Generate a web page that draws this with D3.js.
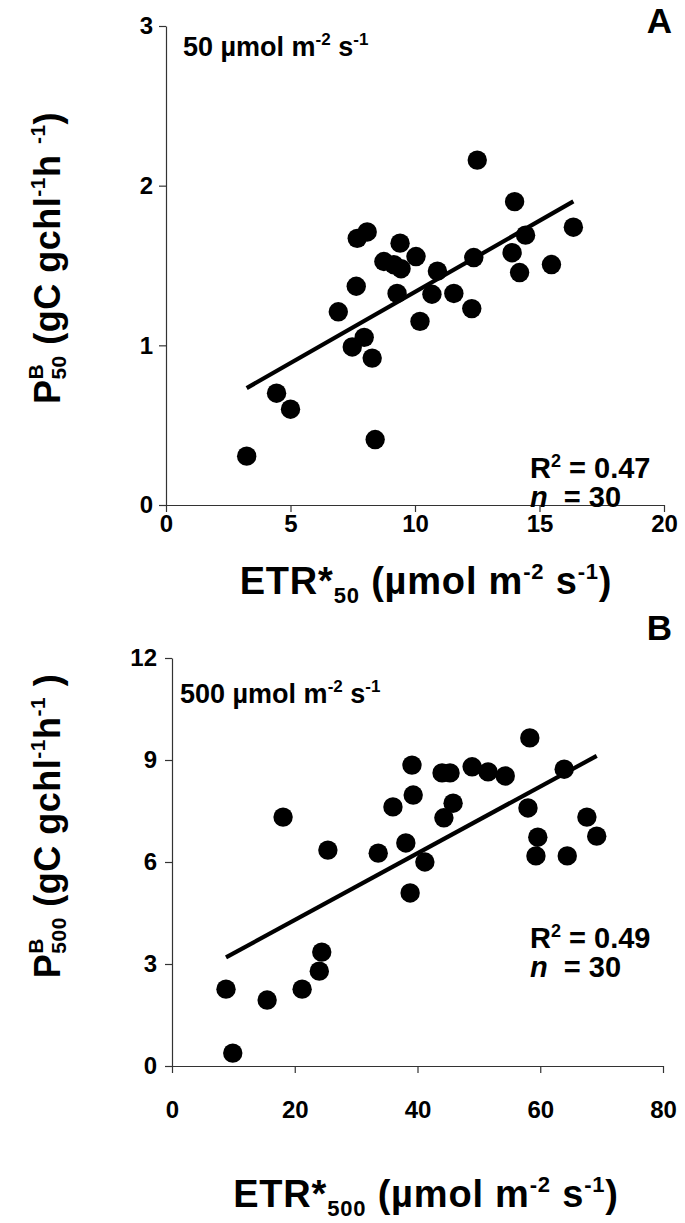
<!DOCTYPE html>
<html>
<head>
<meta charset="utf-8">
<script src="https://cdn.jsdelivr.net/npm/d3@7"></script>
<style>
  body { margin: 0; background: #fff; }
  svg { display: block; }
  text { font-family: "Liberation Sans", Arial, Helvetica, sans-serif; font-weight: bold; fill: #000; white-space: pre; }
</style>
</head>
<body>
<svg id="chart" width="685" height="1223"></svg>
<script>
// Panel A: P^B at 50 µmol photons vs ETR* at 50
const etr50 = [12.5, 14.0, 16.36, 14.44, 7.68, 8.08, 9.4, 8.75, 9.15, 9.44,
               10.04, 13.9, 15.48, 14.2, 10.9, 12.36, 7.64, 9.28, 10.68, 11.56,
               12.28, 6.92, 10.2, 7.96, 7.48, 8.28, 4.44, 5.0, 8.4, 3.24];
const pb50 = [2.16, 1.90, 1.74, 1.69, 1.67, 1.71, 1.64, 1.525, 1.505, 1.48,
              1.556, 1.58, 1.506, 1.456, 1.465, 1.55, 1.37, 1.325, 1.32, 1.325,
              1.23, 1.21, 1.15, 1.05, 0.99, 0.92, 0.70, 0.60, 0.41, 0.306];
const xTicks50 = [0, 5, 10, 15, 20];
const yTicks50 = [0, 1, 2, 3];

// Panel B: P^B at 500 µmol photons vs ETR* at 500
const etr500 = [58.3, 39.1, 44.0, 45.3, 48.9, 51.5, 54.3, 63.9, 39.3, 36.0,
                45.8, 18.1, 58.0, 67.6, 44.3, 59.6, 69.2, 59.3, 64.4, 25.4,
                33.6, 38.1, 41.2, 38.8, 24.4, 24.0, 21.2, 8.8, 15.5, 9.9];
const pb500 = [9.65, 8.85, 8.62, 8.62, 8.8, 8.65, 8.53, 8.73, 7.97, 7.62,
               7.73, 7.32, 7.59, 7.32, 7.30, 6.73, 6.76, 6.18, 6.18, 6.35,
               6.26, 6.56, 6.0, 5.09, 3.35, 2.79, 2.26, 2.26, 1.94, 0.38];
const xTicks500 = [0, 20, 40, 60, 80];
const yTicks500 = [0, 3, 6, 9, 12];

const stats50 = { r2: "0.47", n: "30" };
const stats500 = { r2: "0.49", n: "30" };

const svg = d3.select("#chart");

// Least-squares line over the range of the data
function linearFit(xs, ys) {
  const mx = d3.mean(xs), my = d3.mean(ys);
  let sxy = 0, sxx = 0;
  xs.forEach((x, i) => { sxy += (x - mx) * (ys[i] - my); sxx += (x - mx) ** 2; });
  const slope = sxy / sxx, intercept = my - slope * mx;
  const [x0, x1] = d3.extent(xs);
  return [[x0, intercept + slope * x0], [x1, intercept + slope * x1]];
}

// Draws a run of text pieces (with super/subscripts) left to right.
// A piece with stack:true starts where the previous piece started.
function richText(parent, x, y, parts, opts = {}) {
  const outer = parent.append("g")
    .attr("transform", `translate(${x},${y})` + (opts.rotate ? ` rotate(${opts.rotate})` : ""));
  const inner = outer.append("g");
  let cursor = 0, prevStart = 0, maxEnd = 0;
  parts.forEach(p => {
    const start = p.stack ? prevStart : cursor;
    const t = inner.append("text")
      .attr("x", start)
      .attr("y", p.shift || 0)
      .style("font-size", p.size + "px")
      .style("letter-spacing", opts.spacing ? opts.spacing + "px" : null)
      .style("font-style", p.italic ? "italic" : null)
      .text(p.t);
    const w = t.node().getComputedTextLength();
    prevStart = start;
    maxEnd = Math.max(maxEnd, start + w);
    cursor = maxEnd;
  });
  if (opts.anchor === "middle") inner.attr("transform", `translate(${-maxEnd / 2},0)`);
  if (opts.anchor === "end") inner.attr("transform", `translate(${-maxEnd},0)`);
  return outer;
}

function panel(cfg) {
  const x = d3.scaleLinear().domain(cfg.xDomain).range(cfg.xRange);
  const y = d3.scaleLinear().domain(cfg.yDomain).range(cfg.yRange);
  const g = svg.append("g");

  const xAxis = g.append("g")
    .attr("transform", `translate(0,${cfg.yRange[0]})`)
    .call(d3.axisBottom(x).tickValues(cfg.xTicks).tickFormat(d3.format("d"))
      .tickSize(7).tickSizeOuter(0).tickPadding(cfg.xPad));
  const yAxis = g.append("g")
    .attr("transform", `translate(${cfg.xRange[0]},0)`)
    .call(d3.axisLeft(y).tickValues(cfg.yTicks).tickFormat(d3.format("d"))
      .tickSize(7).tickSizeOuter(0).tickPadding(cfg.yPad));
  [xAxis, yAxis].forEach(a => {
    a.select(".domain").attr("stroke", "#333").attr("stroke-width", 1.2);
    a.selectAll(".tick line").attr("stroke", "#333").attr("stroke-width", 1.2);
    a.selectAll(".tick text")
      .attr("fill", "#000")
      .style("font-family", '"Liberation Sans", Arial, sans-serif')
      .style("font-weight", "bold")
      .style("font-size", "24px");
  });

  // regression line
  const fit = linearFit(cfg.xs, cfg.ys);
  g.append("line")
    .attr("x1", x(fit[0][0])).attr("y1", y(fit[0][1]))
    .attr("x2", x(fit[1][0])).attr("y2", y(fit[1][1]))
    .attr("stroke", "#000").attr("stroke-width", 4.2);

  // observations
  g.append("g").selectAll("circle")
    .data(cfg.xs.map((v, i) => [v, cfg.ys[i]]))
    .join("circle")
    .attr("cx", d => x(d[0]))
    .attr("cy", d => y(d[1]))
    .attr("r", 9.7)
    .attr("fill", "#000");

  // panel letter
  g.append("text").attr("x", 672).attr("y", cfg.letterY).attr("text-anchor", "end")
    .style("font-size", "35px").text(cfg.letter);

  // irradiance label
  richText(g, cfg.xRange[0] + cfg.labelDx, cfg.labelY, [
    { t: cfg.irr + " µmol m", size: 27 },
    { t: "-2", size: 17, shift: -11 },
    { t: " s", size: 27 },
    { t: "-1", size: 17, shift: -11 }
  ]);

  // statistics
  richText(g, 530, cfg.statsY, [
    { t: "R", size: 29 },
    { t: "2", size: 18, shift: -11 },
    { t: " = " + cfg.stats.r2, size: 29 }
  ]);
  richText(g, 530, cfg.statsY + 29, [
    { t: "n", size: 29, italic: true },
    { t: "  = " + cfg.stats.n, size: 29 }
  ]);

  // x-axis title
  richText(g, 426, cfg.xTitleY, [
    { t: "ETR*", size: 38 },
    { t: cfg.irr, size: 22, shift: 9 },
    { t: " (µmol m", size: 38 },
    { t: "-2", size: 22, shift: -15 },
    { t: " s", size: 38 },
    { t: "-1", size: 22, shift: -15 },
    { t: ")", size: 38 }
  ], { anchor: "middle", spacing: 0.8 });

  // y-axis title
  richText(g, 60, cfg.yTitleY, cfg.yTitle, { rotate: -90, anchor: "middle", spacing: 0.5 });
}

panel({
  xs: etr50, ys: pb50,
  xDomain: [0, 20], xRange: [166, 664],
  yDomain: [0, 3], yRange: [505, 26],
  xTicks: xTicks50, yTicks: yTicks50, xPad: 3, yPad: 6,
  letter: "A", letterY: 33,
  irr: "50", labelY: 56, labelDx: 17,
  stats: stats50, statsY: 478,
  xTitleY: 594, yTitleY: 258,
  yTitle: [
    { t: "P", size: 36 },
    { t: "B", size: 21, shift: -17 },
    { t: "50", size: 21, shift: 6, stack: true },
    { t: " (gC gchl", size: 36 },
    { t: "-1", size: 21, shift: -15 },
    { t: "h ", size: 36 },
    { t: "-1", size: 21, shift: -15 },
    { t: ")", size: 36 }
  ]
});

panel({
  xs: etr500, ys: pb500,
  xDomain: [0, 80], xRange: [172, 663],
  yDomain: [0, 12], yRange: [1066, 658],
  xTicks: xTicks500, yTicks: yTicks500, xPad: 28, yPad: 8,
  letter: "B", letterY: 640,
  irr: "500", labelY: 703, labelDx: 8,
  stats: stats500, statsY: 948,
  xTitleY: 1207, yTitleY: 826,
  yTitle: [
    { t: "P", size: 36 },
    { t: "B", size: 21, shift: -17 },
    { t: "500", size: 21, shift: 6, stack: true },
    { t: " (gC gchl", size: 36 },
    { t: "-1", size: 21, shift: -15 },
    { t: "h", size: 36 },
    { t: "-1", size: 21, shift: -15 },
    { t: " )", size: 36 }
  ]
});
</script>
</body>
</html>
